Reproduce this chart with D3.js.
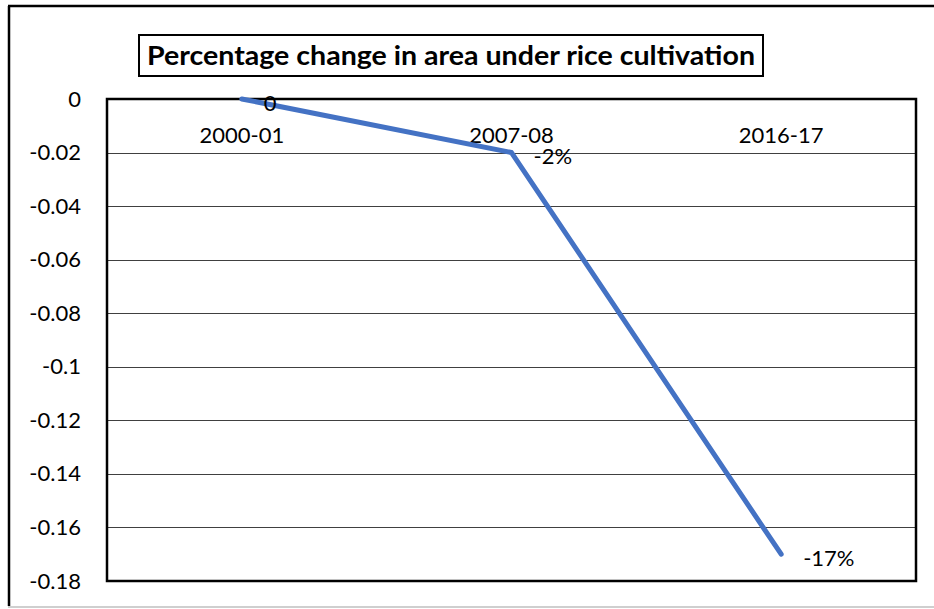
<!DOCTYPE html>
<html>
<head>
<meta charset="utf-8">
<script src="https://cdn.jsdelivr.net/npm/d3@7"></script>
<style>
  html, body { margin: 0; padding: 0; background: #fff; }
  svg { display: block; font-family: Lato, "Open Sans", sans-serif; }
</style>
</head>
<body>
<svg id="chart" width="934" height="609"></svg>
<script>
// Seasons and the percentage change in rice area (fraction of the 2000-01 area)
const seasons = ["2000-01", "2007-08", "2016-17"];
const changeValues = [0, -0.02, -0.17];
const pointLabels = ["0", "-2%", "-17%"];
const yTickValues = [0, -0.02, -0.04, -0.06, -0.08, -0.1, -0.12, -0.14, -0.16, -0.18];
const chartTitle = "Percentage change in area under rice cultivation";

const svg = d3.select("#chart");
const plot = { left: 107, top: 99, right: 916, bottom: 581 };
const labelFont = "Lato, 'Open Sans', sans-serif";
const labelSize = 22;

// Outer frame: dark left/top edges, light bottom edge
svg.append("line").attr("x1", 9).attr("x2", 9).attr("y1", 6).attr("y2", 606)
  .attr("stroke", "#000").attr("stroke-width", 2.5);
svg.append("line").attr("x1", 8).attr("x2", 934).attr("y1", 6).attr("y2", 6)
  .attr("stroke", "#000").attr("stroke-width", 2.5);
svg.append("line").attr("x1", 8).attr("x2", 934).attr("y1", 607).attr("y2", 607)
  .attr("stroke", "#bfbfbf").attr("stroke-width", 1.5);

const x = d3.scaleBand().domain(seasons).range([plot.left, plot.right]);
const y = d3.scaleLinear().domain([0, -0.18]).range([plot.top, plot.bottom]);

// Horizontal gridlines
svg.append("g").selectAll("line")
  .data(yTickValues.filter(v => v !== 0 && v !== -0.18))
  .join("line")
  .attr("x1", plot.left).attr("x2", plot.right)
  .attr("y1", d => Math.round(y(d)) + 0.5).attr("y2", d => Math.round(y(d)) + 0.5)
  .attr("stroke", "#404040").attr("stroke-width", 1.2);

// Plot area border
svg.append("rect")
  .attr("x", plot.left).attr("y", plot.top)
  .attr("width", plot.right - plot.left).attr("height", plot.bottom - plot.top)
  .attr("fill", "none").attr("stroke", "#000").attr("stroke-width", 2.5);

// Y axis labels
const yAxis = d3.axisLeft(y).tickValues(yTickValues).tickSize(0).tickPadding(0)
  .tickFormat(d => d === 0 ? "0" : String(+d.toFixed(2)));
const gy = svg.append("g").attr("transform", `translate(${plot.left - 26},0)`).call(yAxis);
gy.select(".domain").remove();
gy.selectAll("text").attr("font-size", labelSize).attr("fill", "#000")
  .attr("font-family", labelFont);

// Category labels, drawn along the zero line
const xAxis = d3.axisTop(x).tickSize(0).tickPadding(0);
const gx = svg.append("g").attr("transform", `translate(0,${y(0) + 44})`).call(xAxis);
gx.select(".domain").remove();
gx.selectAll("text").attr("font-size", labelSize).attr("fill", "#000")
  .attr("font-family", labelFont);

// Series line
const pts = seasons.map((s, i) => [x(s) + x.bandwidth() / 2, y(changeValues[i])]);
svg.append("path")
  .attr("d", d3.line()(pts))
  .attr("fill", "none").attr("stroke", "#4472C4")
  .attr("stroke-width", 5).attr("stroke-linecap", "round").attr("stroke-linejoin", "round");

// Data labels to the right of each point
svg.append("g").selectAll("text")
  .data(pts)
  .join("text")
  .attr("x", d => d[0] + 22)
  .attr("y", d => d[1] + 6)
  .attr("dominant-baseline", "middle")
  .attr("font-size", labelSize)
  .attr("font-family", labelFont)
  .attr("fill", "#000")
  .text((d, i) => pointLabels[i]);

// Title in a boxed frame
svg.append("rect").attr("x", 139).attr("y", 35).attr("width", 624).attr("height", 41)
  .attr("fill", "#fff").attr("stroke", "#000").attr("stroke-width", 2);
svg.append("text")
  .attr("x", 451).attr("y", 65)
  .attr("text-anchor", "middle")
  .attr("font-size", 27).attr("font-weight", "bold").attr("fill", "#000")
  .attr("font-family", labelFont)
  .attr("textLength", 608).attr("lengthAdjust", "spacingAndGlyphs")
  .text(chartTitle);
</script>
</body>
</html>
